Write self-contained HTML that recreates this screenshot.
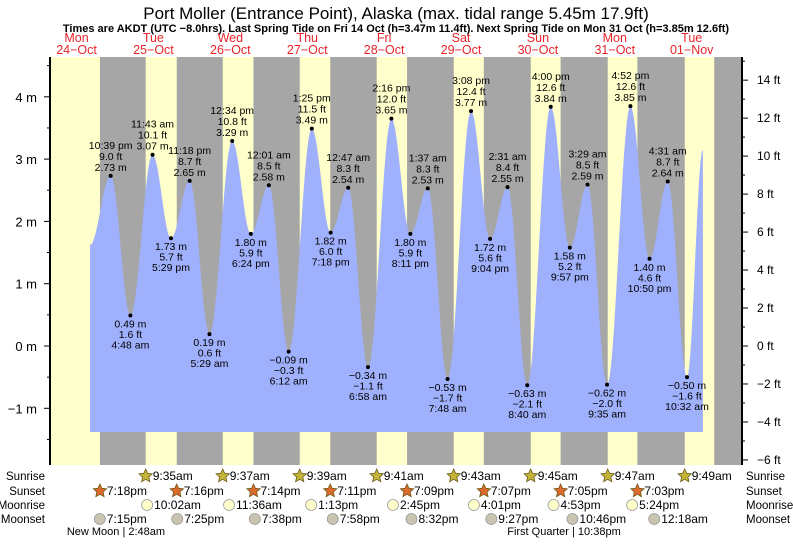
<!DOCTYPE html>
<html><head><meta charset="utf-8">
<style>
body{margin:0;background:#fff;}
svg text{font-family:"Liberation Sans",sans-serif;}
</style></head>
<body>
<svg id="chart" width="793" height="539" viewBox="0 0 793 539" xmlns="http://www.w3.org/2000/svg">
<text x="396" y="19" font-size="17" text-anchor="middle">Port Moller (Entrance Point), Alaska (max. tidal range 5.45m 17.9ft)</text>
<text x="396" y="32" font-size="11" font-weight="bold" text-anchor="middle">Times are AKDT (UTC −8.0hrs). Last Spring Tide on Fri 14 Oct (h=3.47m 11.4ft). Next Spring Tide on Mon 31 Oct (h=3.85m 12.6ft)</text>
<g id="days"></g>
<g id="bands"></g>
<g id="tide"></g>
<g id="axes"></g>
<g id="labels"></g>
<g id="astro"></g>
</svg>
<script>
// hours since Oct 24 00:00
const tideTimes=[16.2,22.65,28.8,35.72,41.48,47.3,53.48,60.57,66.4,72.02,78.2,85.42,91.3,96.78,102.97,110.27,116.18,121.62,127.8,135.13,141.07,146.52,152.67,160,165.95,171.48,177.58,184.87,190.83,196.52,202.53,207.5];
const tideHeights=[1.62,2.73,0.49,3.07,1.73,2.65,0.19,3.29,1.80,2.58,-0.09,3.49,1.82,2.54,-0.34,3.65,1.80,2.53,-0.53,3.77,1.72,2.55,-0.63,3.84,1.58,2.59,-0.62,3.85,1.40,2.64,-0.50,3.15];
const tideLabels=["","10:39 pm","4:48 am","11:43 am","5:29 pm","11:18 pm","5:29 am","12:34 pm","6:24 pm","12:01 am","6:12 am","1:25 pm","7:18 pm","12:47 am","6:58 am","2:16 pm","8:11 pm","1:37 am","7:48 am","3:08 pm","9:04 pm","2:31 am","8:40 am","4:00 pm","9:57 pm","3:29 am","9:35 am","4:52 pm","10:50 pm","4:31 am","10:32 am",""];
const dayNames=["Mon","Tue","Wed","Thu","Fri","Sat","Sun","Mon","Tue"];
const dayDates=["24−Oct","25−Oct","26−Oct","27−Oct","28−Oct","29−Oct","30−Oct","31−Oct","01−Nov"];
const sunriseT=[33.58,57.62,81.65,105.68,129.72,153.75,177.78,201.82];
const sunriseL=["9:35am","9:37am","9:39am","9:41am","9:43am","9:45am","9:47am","9:49am"];
const sunsetT=[19.3,43.27,67.23,91.18,115.15,139.12,163.08,187.05,211.02];
const sunsetL=["7:18pm","7:16pm","7:14pm","7:11pm","7:09pm","7:07pm","7:05pm","7:03pm",""];
const moonriseT=[34.03,59.6,85.22,110.75,136.02,160.88,185.4];
const moonriseL=["10:02am","11:36am","1:13pm","2:45pm","4:01pm","4:53pm","5:24pm"];
const moonsetT=[19.25,43.42,67.63,91.97,116.53,141.45,166.77,192.3];
const moonsetL=["7:15pm","7:25pm","7:38pm","7:58pm","8:32pm","9:27pm","10:46pm","12:18am"];
const phaseT=[26.8,166.63];
const phaseL=["New Moon | 2:48am","First Quarter | 10:38pm"];
const mTicks=[-1,0,1,2,3,4];
const ftTicks=[-6,-4,-2,0,2,4,6,8,10,12,14];

const NS="http://www.w3.org/2000/svg";
const X=t=>38.1+t*3.204;
const Y=m=>346-m*62.3;
const YF=f=>Y(f*0.3048);
const L=50,R=742,T=57,B=465,BLUEB=432;
function mk(tag,attrs,parent,txt){const e=document.createElementNS(NS,tag);for(const k in attrs)e.setAttribute(k,attrs[k]);if(txt!==undefined)e.textContent=txt;document.getElementById(parent).appendChild(e);return e;}

dayNames.forEach((d,i)=>{
  const x=X(12+24*i);
  let e=mk('text',{x:x,y:42,'font-size':12.5,fill:'#e8242a','text-anchor':'middle'},'days',d);
  
  
  e=mk('text',{x:x,y:54,'font-size':12.5,fill:'#e8242a','text-anchor':'middle'},'days',dayDates[i]);
  
  
});

let bg=mk('rect',{x:L,y:T,width:R-L,height:B-T,fill:'#ffffcc'},'bands');


for(let i=0;i<sunsetT.length;i++){
  const x1=X(sunsetT[i]);const x2=i<sunriseT.length?X(sunriseT[i]):R;
  const r=mk('rect',{x:x1,y:T,width:Math.min(x2,R)-x1,height:B-T,fill:'#a6a6a6'},'bands');
  
  
}

let d='M'+X(tideTimes[0])+','+BLUEB;
for(let i=0;i<tideTimes.length-1;i++){
  const t0=tideTimes[i],t1=tideTimes[i+1],h0=tideHeights[i],h1=tideHeights[i+1];
  for(let k=0;k<=20;k++){const f=k/20;const t=t0+(t1-t0)*f;const h=h0+(h1-h0)*(1-Math.cos(Math.PI*f))/2;d+=' L'+X(t).toFixed(1)+','+Y(h).toFixed(1);}
}
d+=' L'+X(tideTimes[tideTimes.length-1])+','+BLUEB+' Z';
const area=mk('path',{d:d,fill:'#9fb0fc'},'tide');



let ax=mk('line',{x1:L,y1:T,x2:L,y2:B,stroke:'#000','stroke-width':2},'axes');


ax=mk('line',{x1:R,y1:T,x2:R,y2:B,stroke:'#000','stroke-width':2},'axes');


for(let m=-1.5;m<=4.5;m+=0.5){const y=Y(m);if(y<T||y>B)continue;mk('line',{x1:L-(Number.isInteger(m)?6:3),y1:y,x2:L,y2:y,stroke:'#000'},'axes');}
mTicks.forEach(m=>{const e=mk('text',{x:37,y:Y(m)+5,'font-size':13,'text-anchor':'end'},'axes',(m<0?'−'+(-m):m)+' m');
  
  });
for(let f=-6;f<=15;f+=1){const y=YF(f);if(y<T||y>B)continue;mk('line',{x1:R,y1:y,x2:R+(f%2===0?6:3),y2:y,stroke:'#000'},'axes');}
ftTicks.forEach(f=>{const e=mk('text',{x:757,y:YF(f)+4,'font-size':12},'axes',(f<0?'−'+(-f):f)+' ft');
  
  });

const fmt=v=>(v<0?'−':'')+Math.abs(v).toFixed(2);
const fmt1=v=>(v<0?'−':'')+Math.abs(v).toFixed(1);
for(let i=1;i<tideTimes.length-1;i++){
  const x=X(tideTimes[i]),y=Y(tideHeights[i]),h=tideHeights[i];
  const hi=h>tideHeights[i-1];
  const dot=mk('circle',{cx:x,cy:y,r:2,fill:'#000'},'labels');
  
  
  const lines=[fmt(h)+' m',fmt1(h*3.28084)+' ft',tideLabels[i]];
  lines.forEach((s,j)=>{
    const yy=hi?y-5-j*11:y+12+j*10.5;
    const e=mk('text',{x:x,y:yy,'font-size':10.5,'text-anchor':'middle'},'labels',s);
    
    
  });
}

const rows=[["Sunrise",480],["Sunset",495],["Moonrise",509],["Moonset",523]];
rows.forEach(r=>{
  let e=mk('text',{x:45,y:r[1],'font-size':11.5,'text-anchor':'end'},'astro',r[0]);
  
  
  e=mk('text',{x:746,y:r[1],'font-size':11.5},'astro',r[0]);
  
  
});
function star(cx,cy,fill){let p='';for(let k=0;k<10;k++){const a=-Math.PI/2+k*Math.PI/5;const rr=k%2?3.3:7;p+=(cx+rr*Math.cos(a)).toFixed(1)+','+(cy+rr*Math.sin(a)).toFixed(1)+' ';}return mk('polygon',{points:p,fill:fill,stroke:'#6b5a1a','stroke-width':0.8},'astro');}
function addRow(ts,ls,y,kind){
  ts.forEach((t,i)=>{
    const x=X(t);let ic;
    if(kind==='sunrise')ic=star(x,y-4,'#c2b53a');
    else if(kind==='sunset')ic=star(x,y-4,'#dc6a2c');
    else ic=mk('circle',{cx:x,cy:y-4,r:5.5,fill:kind==='moonrise'?'#ffffcc':'#c8c4b0',stroke:'#999','stroke-width':0.8},'astro');
    
    
    if(ls[i]){const e=mk('text',{x:x+7,y:y,'font-size':12},'astro',ls[i]);
      
      }
  });
}
addRow(sunriseT,sunriseL,480,'sunrise');
addRow(sunsetT.slice(0,8),sunsetL,495,'sunset');
addRow(moonriseT,moonriseL,509,'moonrise');
addRow(moonsetT,moonsetL,523,'moonset');
phaseT.forEach((t,i)=>{const e=mk('text',{x:X(t)-8,y:535,'font-size':11,'text-anchor':'middle'},'astro',phaseL[i]);
  
  });
</script>
</body></html>
